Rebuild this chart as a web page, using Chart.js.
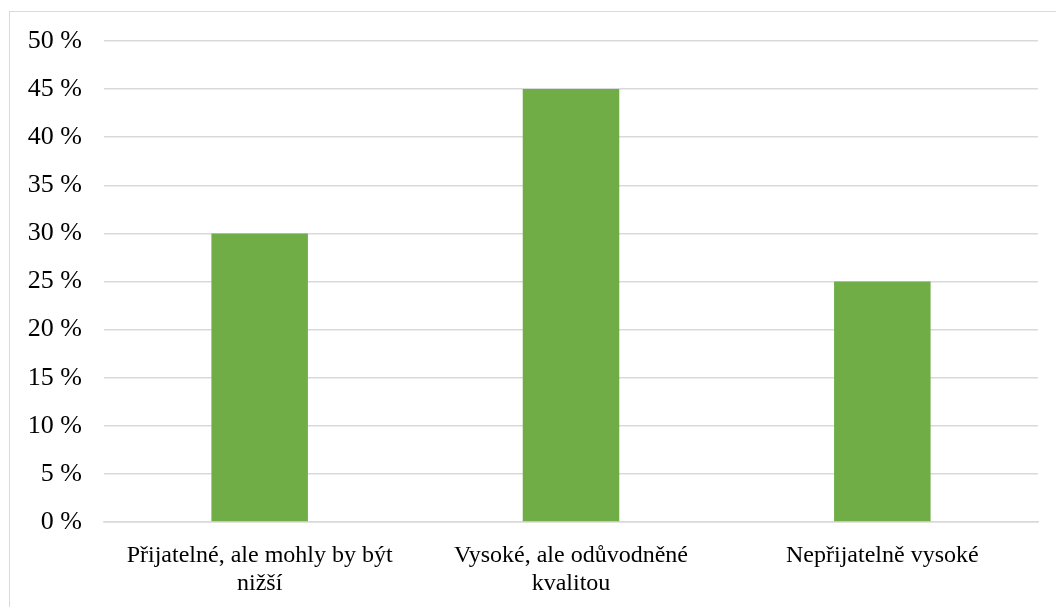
<!DOCTYPE html>
<html><head><meta charset="utf-8">
<script src="https://cdn.jsdelivr.net/npm/chart.js@4"></script>
<style>
html,body{margin:0;padding:0;background:#fff;}
#wrap{position:relative;width:1056px;height:607px;}
#frame{position:absolute;left:9px;top:11px;width:1100px;height:700px;border:1px solid #d9d9d9;box-sizing:border-box;pointer-events:none;}
canvas{position:absolute;left:0;top:0;}
</style></head><body>
<div id="wrap"><div id="frame"></div><canvas id="c" width="1056" height="607"></canvas></div>
<script>
const categories = [["Přijatelné, ale mohly by být","nižší"],["Vysoké, ale odůvodněné","kvalitou"],["Nepřijatelně vysoké"]];
const values = [30, 45, 25];
const yTicks = [0,5,10,15,20,25,30,35,40,45,50];

new Chart(document.getElementById('c'), {
  type: 'bar',
  data: { labels: categories, datasets: [{ data: values, backgroundColor: '#70ad47', categoryPercentage: 1, barPercentage: 0.31 }] },
  options: {
    responsive: false, animation: false,
    layout: { padding: { left: 0, right: 18, top: 41, bottom: 0 } },
    plugins: { legend: { display: false }, tooltip: { enabled: false } },
    scales: {
      x: {
        grid: { display: false, drawTicks: false },
        border: { display: true, color: '#d9d9d9', width: 1.5 },
        ticks: { color: '#000', font: { family: 'Liberation Serif', size: 24 }, padding: 19, maxRotation: 0, autoSkip: false },
        afterFit: s => { s.height = 85; }
      },
      y: {
        min: 0, max: 50,
        afterBuildTicks: s => { s.ticks = yTicks.map(v => ({ value: v })); },
        grid: { color: '#d9d9d9', lineWidth: 1.5, drawTicks: false },
        border: { display: false },
        ticks: { color: '#000', font: { family: 'Liberation Serif', size: 26 }, padding: 22, callback: v => v + ' %' },
        afterFit: s => { s.width = 104; }
      }
    }
  }
});
</script></body></html>
